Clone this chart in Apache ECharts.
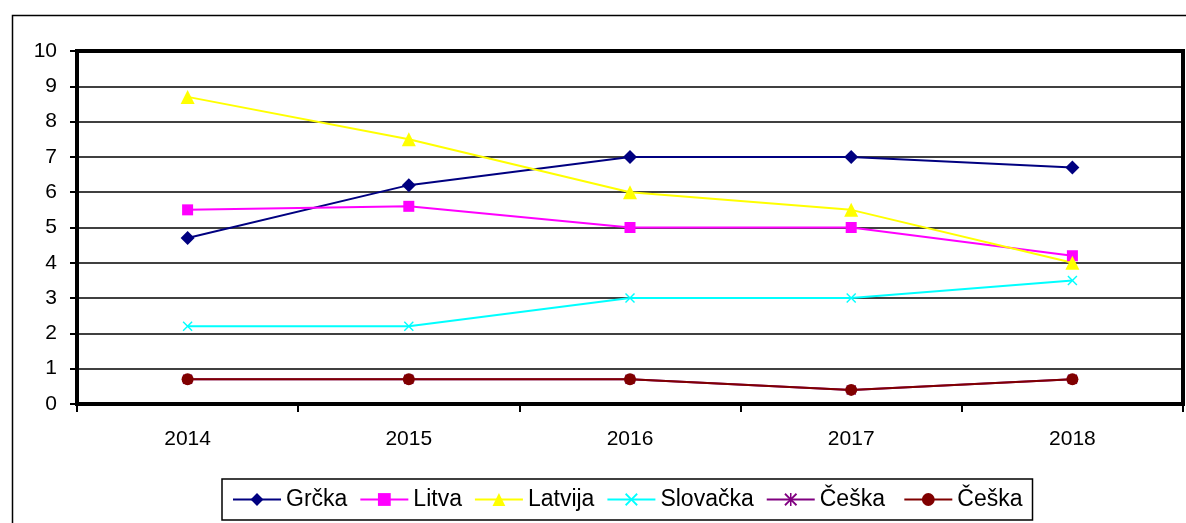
<!DOCTYPE html>
<html><head><meta charset="utf-8">
<script src="https://cdn.jsdelivr.net/npm/echarts@6/dist/echarts.min.js"></script>
<style>html,body{margin:0;padding:0;background:#fff}#c{width:1186px;height:523px}</style>
</head><body><div id="c"></div>
<script>
const years = ['2014','2015','2016','2017','2018'];
const grcka = [4.7, 6.2, 7.0, 7.0, 6.7];
const litva = [5.5, 5.6, 5.0, 5.0, 4.2];
const latvija = [8.7, 7.5, 6.0, 5.5, 4.0];
const slovacka = [2.2, 2.2, 3.0, 3.0, 3.5];
const ceskaStar = [0.7, 0.7, 0.7, 0.4, 0.7];
const ceskaCircle = [0.7, 0.7, 0.7, 0.4, 0.7];
const yTicks = [0,1,2,3,4,5,6,7,8,9,10];

const xPath = 'path://M0,1L1,0L5,4L9,0L10,1L6,5L10,9L9,10L5,6L1,10L0,9L4,5Z';
const starPath = 'path://M0,1L1,0L5,4L9,0L10,1L6,5L10,9L9,10L5,6L1,10L0,9L4,5ZM4.4,0L5.6,0L5.6,10L4.4,10Z';

function mk(name, data, color, symbol, size) {
  return {
    name, type: 'line', data, symbol, symbolSize: size, showSymbol: true,
    lineStyle: { color, width: 2 },
    itemStyle: { color, borderWidth: 0 },
    emphasis: { disabled: true },
    animation: false
  };
}

const chart = echarts.init(document.getElementById('c'), null, { renderer: 'canvas' });
chart.setOption({
  animation: false,
  backgroundColor: '#fff',
  textStyle: { fontFamily: 'Liberation Sans, Arial, sans-serif' },
  graphic: [{
    type: 'rect', left: 10, top: 13, z: -1,
    shape: { x: 0, y: 0, width: 1200, height: 600 },
    style: { fill: 'none', stroke: '#000', lineWidth: 1.5 }
  }],
  grid: { left: 77, top: 51, right: 3, bottom: 119, show: true, borderColor: '#000', borderWidth: 4, backgroundColor: 'transparent' },
  xAxis: {
    type: 'category', data: years, boundaryGap: true,
    axisLine: { lineStyle: { color: '#000', width: 4 } },
    axisTick: { show: true, length: 8, lineStyle: { color: '#000', width: 2 } },
    axisLabel: { color: '#000', fontSize: 21, margin: 25, fontFamily: 'Liberation Sans' },
    splitLine: { show: false }
  },
  yAxis: {
    type: 'value', min: 0, max: 10, interval: 1,
    axisLine: { show: true, lineStyle: { color: '#000', width: 4 } },
    axisTick: { show: true, length: 7, lineStyle: { color: '#000', width: 2 } },
    axisLabel: { color: '#000', fontSize: 21, margin: 20, fontFamily: 'Liberation Sans',
      formatter: v => yTicks.includes(v) ? String(v) : '' },
    splitLine: { show: true, lineStyle: { color: '#000', width: 1.5 } }
  },
  legend: {
    left: 222, top: 479, orient: 'horizontal',
    padding: [9, 10, 9, 10],
    borderColor: '#000', borderWidth: 1.5,
    itemWidth: 48, itemHeight: 16, itemGap: 12,
    textStyle: { color: '#000', fontSize: 23, fontFamily: 'Liberation Sans' },
    data: ['Grčka','Litva','Latvija','Slovačka','Češka ','Češka']
  },
  series: [
    mk('Grčka', grcka, '#000080', 'diamond', 14),
    mk('Litva', litva, '#FF00FF', 'rect', 11),
    mk('Latvija', latvija, '#FFFF00', 'triangle', 14),
    mk('Slovačka', slovacka, '#00FFFF', xPath, 10),
    mk('Češka ', ceskaStar, '#800080', starPath, 10),
    mk('Češka', ceskaCircle, '#800000', 'circle', 12)
  ]
});
</script></body></html>
